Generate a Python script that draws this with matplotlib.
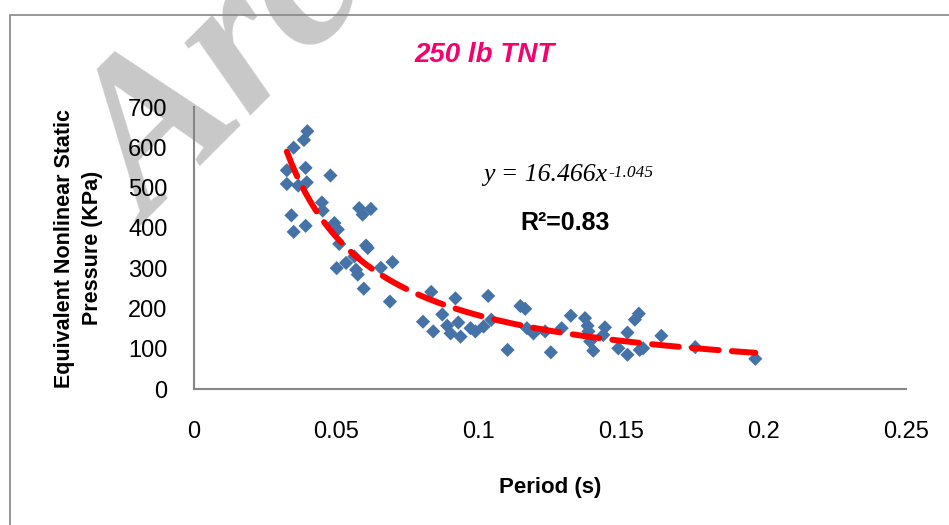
import numpy as np
import matplotlib
matplotlib.use("Agg")
import matplotlib.pyplot as plt
from matplotlib.patches import Rectangle

# period (s) vs equivalent pressure (KPa) for the 250 lb charge
period = [
    0.0398, 0.0386, 0.0350, 0.0326, 0.0392, 0.0479, 0.0326, 0.0366, 0.0396,
    0.0449, 0.0452, 0.0580, 0.0621, 0.0592, 0.0342, 0.0350, 0.0392, 0.0493,
    0.0505, 0.0510, 0.0604, 0.0610, 0.0563, 0.0501, 0.0534, 0.0569, 0.0575,
    0.0656, 0.0697, 0.0596, 0.0688, 0.0833, 0.0804, 0.0872, 0.0840, 0.0889,
    0.0918, 0.1033, 0.1146, 0.1163, 0.0928, 0.0901, 0.0936, 0.0971, 0.0988,
    0.1017, 0.1044, 0.1101, 0.1169, 0.1192, 0.1233, 0.1253, 0.1291, 0.1323,
    0.1373, 0.1382, 0.1385, 0.1391, 0.1402, 0.1443, 0.1437, 0.1490, 0.1522,
    0.1522, 0.1548, 0.1562, 0.1565, 0.1577, 0.1641, 0.1760, 0.1971,
]
pressure = [
    640, 618, 599, 543, 549, 530, 509, 505, 513,
    463, 443, 449, 447, 433, 431, 390, 405, 412,
    396, 360, 356, 350, 329, 300, 313, 296, 284,
    301, 315, 249, 217, 241, 167, 185, 143, 157,
    225, 231, 206, 199, 165, 138, 130, 151, 143,
    155, 172, 97, 151, 138, 143, 91, 151, 182,
    176, 157, 143, 118, 95, 153, 134, 101, 85,
    140, 172, 187, 97, 101, 132, 104, 75,
]

# power trendline y = a * x^b
fit_a = 16.466
fit_b = -1.045
r_squared = 0.83

x_ticks = [0, 0.05, 0.1, 0.15, 0.2, 0.25]
x_tick_labels = ["0", "0.05", "0.1", "0.15", "0.2", "0.25"]
y_ticks = [0, 100, 200, 300, 400, 500, 600, 700]

W, H = 949, 525
fig = plt.figure(figsize=(W / 100, H / 100), dpi=100)
plt.rcParams["font.family"] = ["Liberation Sans", "DejaVu Sans"]

# faint diagonal stamp in the upper left, under everything else
fig.text(150 / W, 1 - 228 / H, "Arc", fontsize=155, family="Liberation Serif",
         fontweight="bold", style="italic", color="#c8c8c8", rotation=45,
         rotation_mode="anchor", ha="left", va="baseline", zorder=-5)

# outer chart frame
fig.add_artist(Rectangle((10 / W, -0.05), 1.2, 1 - 15 / H + 0.05,
                         transform=fig.transFigure, fill=False,
                         edgecolor="#868686", linewidth=1.2, zorder=1))

ax = fig.add_axes([194 / W, 1 - 389 / H, (906 - 194) / W, (389 - 107) / H])
ax.patch.set_visible(False)
ax.scatter(period, pressure, marker="D", s=52, color="#4572a7",
           edgecolors="none", zorder=3)

xf = np.linspace(min(period), max(period), 200)
ax.plot(xf, fit_a * xf ** fit_b, color="#ff0000", linewidth=4.3,
        linestyle=(0, (4.5, 2.2)), dash_capstyle="round", zorder=4)

ax.set_xlim(0, 0.25)
ax.set_ylim(0, 700)
ax.set_xticks(x_ticks)
ax.set_xticklabels(x_tick_labels)
ax.set_yticks(y_ticks)
ax.tick_params(length=0, labelsize=17, colors="#000000")
ax.tick_params(axis="x", pad=23)
ax.tick_params(axis="y", pad=19)
for side in ("top", "right"):
    ax.spines[side].set_visible(False)
for side in ("left", "bottom"):
    ax.spines[side].set_color("#868686")
    ax.spines[side].set_linewidth(1.5)

ax.set_xlabel("Period (s)", fontsize=16, fontweight="bold")
ax.xaxis.set_label_coords((550 - 194) / (906 - 194), -(477 - 389) / (389 - 107))
ax.set_ylabel("Equivalent Nonlinear Static\nPressure (KPa)", fontsize=15.5,
              fontweight="bold", linespacing=1.45)
ax.yaxis.set_label_coords(-(194 - 103) / (906 - 194), (389 - 248) / (389 - 107))

fig.text(485 / W, 1 - 55 / H, "250 lb TNT", fontsize=20, fontweight="bold",
         style="italic", color="#f5006e", ha="center", va="center")

eq = fig.text(483 / W, 1 - 181 / H, "y = 16.466x", fontsize=18.5,
              family="Liberation Serif", style="italic", ha="left",
              va="baseline")
ax.annotate(f"{fit_b:.3f}", xy=(1, 1), xycoords=eq,
            xytext=(1, -1), textcoords="offset points", fontsize=12.5,
            family="Liberation Serif", style="italic", ha="left", va="top")
fig.text(565 / W, 1 - 223 / H, f"R\u00b2={r_squared}", fontsize=18,
         fontweight="bold", ha="center", va="center")

fig.savefig("out.png", dpi=100)
